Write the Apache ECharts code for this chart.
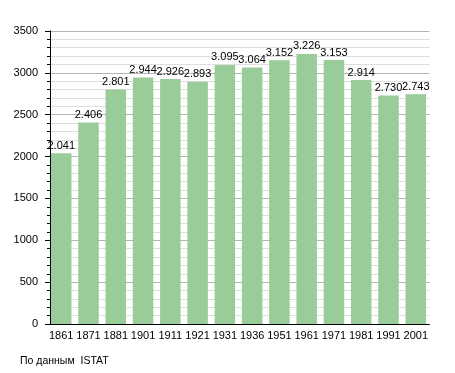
<!DOCTYPE html>
<html>
<head>
<meta charset="utf-8">
<script src="https://cdn.jsdelivr.net/npm/echarts@6/dist/echarts.min.js"></script>
<style>html,body{margin:0;padding:0;background:#fff;}#c{width:455px;height:373px;}</style>
</head>
<body>
<div id="c"></div>
<script>
const years = ['1861','1871','1881','1901','1911','1921','1931','1936','1951','1961','1971','1981','1991','2001'];
const population = [2041,2406,2801,2944,2926,2893,3095,3064,3152,3226,3153,2914,2730,2743];
const yTicks = [0,500,1000,1500,2000,2500,3000,3500];

const chart = echarts.init(document.getElementById('c'), null, {renderer:'canvas'});
const font = 'Liberation Sans, Arial, sans-serif';
chart.setOption({
  animation:false,
  backgroundColor:'#fff',
  grid:{left:47.6, top:31, width:381.8, height:293},
  xAxis:{
    type:'category', data:years,
    axisLine:{lineStyle:{color:'#000', width:1}},
    axisTick:{show:false},
    axisLabel:{color:'#000', fontSize:11, fontFamily:font, margin:6, interval:0}
  },
  yAxis:{
    type:'value', min:yTicks[0], max:yTicks[yTicks.length-1], interval:500, offset:-2.4,
    axisLine:{show:true, lineStyle:{color:'#000', width:1}},
    axisTick:{show:true, length:5, lineStyle:{color:'#000'}},
    minorTick:{show:true, splitNumber:5, length:3, lineStyle:{color:'#000'}},
    splitLine:{show:true, lineStyle:{color:'#b4b4b4', width:1}},
    minorSplitLine:{show:true, lineStyle:{color:'#dedede', width:1}},
    axisLabel:{color:'#000', fontSize:11, fontFamily:font, margin:12, formatter:v=>String(v)}
  },
  series:[{
    type:'bar', data:population, barWidth:20.5,
    itemStyle:{color:'#99cc99'},
    label:{show:true, position:'top', distance:2, color:'#000', fontSize:11, fontFamily:font,
      formatter:p=>{const v=String(p.value);return v.length>3? v.slice(0,v.length-3)+'.'+v.slice(-3):v;}}
  }],
  graphic:[{type:'text', left:20, top:356, style:{text:'По данным  ISTAT', fill:'#000', font:'10.5px '+font}}]
});
</script>
</body>
</html>
